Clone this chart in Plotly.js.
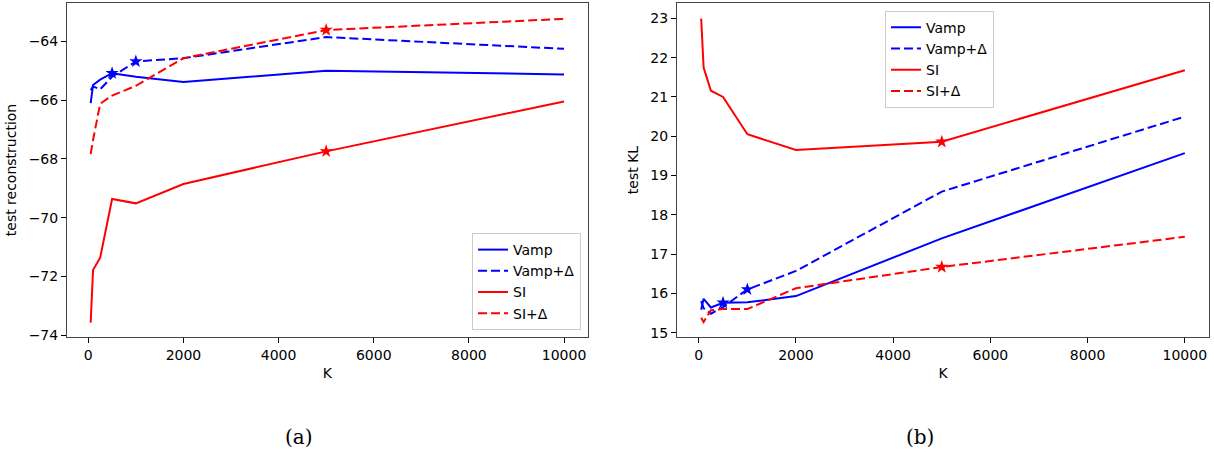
<!DOCTYPE html>
<html>
<head>
<meta charset="utf-8">
<script src="https://cdn.plot.ly/plotly-3.0.1.min.js"></script>
<style>
  html, body { margin: 0; padding: 0; background: #ffffff; }
  #chart { width: 1214px; height: 457px; }
</style>
</head>
<body>
<div id="chart"></div>
<script>
// ---- data ----
const K = [50, 100, 250, 500, 1000, 2000, 5000, 10000];

const seriesNames = ['Vamp', 'Vamp+Δ', 'SI', 'SI+Δ'];

// (a) test reconstruction
const vampRecon      = [-66.10, -65.48, -65.30, -65.08, -65.20, -65.38, -65.00, -65.12];
const vampDeltaRecon = [-65.66, -65.53, -65.63, -65.20, -64.68, -64.57, -63.85, -64.25];
const siRecon        = [-73.57, -71.78, -71.36, -69.36, -69.51, -68.85, -67.74, -66.04];
const siDeltaRecon   = [-67.83, -67.35, -66.12, -65.84, -65.51, -64.57, -63.61, -63.23];

// (b) test KL
const vampKL      = [15.58, 15.86, 15.64, 15.76, 15.77, 15.93, 17.40, 19.57];
const vampDeltaKL = [15.80, 15.62, 15.48, 15.65, 16.10, 16.57, 18.59, 20.50];
const siKL        = [23.00, 21.75, 21.16, 21.00, 20.05, 19.65, 19.86, 21.68];
const siDeltaKL   = [15.38, 15.27, 15.57, 15.60, 15.60, 16.13, 16.67, 17.44];

// K at which each series is marked with a star
const bestK = [500, 1000, 5000, 5000];

const yTicksRecon = [-74, -72, -70, -68, -66, -64];
const yTicksKL = [15, 16, 17, 18, 19, 20, 21, 22, 23];
const xTicks = [0, 2000, 4000, 6000, 8000, 10000];

const captions = ['(a)', '(b)'];
const yTitles = ['test reconstruction', 'test KL'];
const xTitle = 'K';

// ---- styling ----
const colors = ['#0000ff', '#0000ff', '#ff0000', '#ff0000'];
const dashes = ['solid', '9px,4px', 'solid', '9px,4px'];
const FONT = 'DejaVu Sans, sans-serif';
const FS = 14;

const panels = [
  {data: [vampRecon, vampDeltaRecon, siRecon, siDeltaRecon], xa: 'x', ya: 'y', legend: 'legend'},
  {data: [vampKL, vampDeltaKL, siKL, siDeltaKL], xa: 'x2', ya: 'y2', legend: 'legend2'}
];

const traces = [];
panels.forEach((p, pi) => {
  p.data.forEach((ys, si) => {
    traces.push({
      type: 'scatter', mode: 'lines', x: K, y: ys,
      name: seriesNames[si],
      xaxis: p.xa, yaxis: p.ya,
      legend: p.legend,
      legendgroup: 'g' + pi + '_' + si,
      line: {color: colors[si], width: 2, dash: dashes[si]},
      hoverinfo: 'x+y+name'
    });
  });
  p.data.forEach((ys, si) => {
    const idx = K.indexOf(bestK[si]);
    traces.push({
      type: 'scatter', mode: 'markers', x: [K[idx]], y: [ys[idx]],
      xaxis: p.xa, yaxis: p.ya, showlegend: false,
      legendgroup: 'g' + pi + '_' + si,
      marker: {symbol: 'star', size: 10, color: colors[si], line: {width: 0}},
      hoverinfo: 'x+y'
    });
  });
});

const W = 1214, H = 457;
const L = 67, R = 5, T = 3, B = 120;
const plotW = W - L - R, plotH = H - T - B;
const dom1 = [0, (587.7 - L) / plotW];
const dom2 = [(677 - L) / plotW, 1];

function xAxis(domain, anchor) {
  return {
    domain: domain, anchor: anchor,
    range: [-447.5, 10497.5],
    tickmode: 'array', tickvals: xTicks, ticktext: xTicks.map(String),
    ticks: 'outside', ticklen: 5, tickwidth: 1, tickcolor: '#000',
    showline: true, linecolor: '#444', linewidth: 1, mirror: true,
    showgrid: false, zeroline: false,
    tickfont: {family: FONT, size: FS, color: '#000'},
    title: {text: xTitle, font: {family: FONT, size: FS, color: '#000'}, standoff: 6},
    automargin: false
  };
}
function yAxis(range, ticks, title, anchor, standoff) {
  return {
    domain: [0, 1], anchor: anchor, range: range,
    tickmode: 'array', tickvals: ticks,
    ticks: 'outside', ticklen: 5, tickwidth: 1, tickcolor: '#000',
    showline: true, linecolor: '#444', linewidth: 1, mirror: true,
    showgrid: false, zeroline: false,
    tickfont: {family: FONT, size: FS, color: '#000'},
    title: {text: title, font: {family: FONT, size: FS, color: '#000'}, standoff: standoff},
    automargin: false
  };
}

const legendBase = {
  bgcolor: 'rgba(255,255,255,0.8)', bordercolor: '#cccccc', borderwidth: 1,
  font: {family: FONT, size: FS, color: '#000'},
  tracegroupgap: 0, itemwidth: 30
};

const px2x = px => (px - L) / plotW;
const px2y = py => (H - B - py) / plotH;

const layout = {
  width: W, height: H,
  margin: {l: L, r: R, t: T, b: B},
  paper_bgcolor: '#ffffff', plot_bgcolor: '#ffffff',
  showlegend: true,
  xaxis: xAxis(dom1, 'y'),
  yaxis: yAxis([-74.06, -62.69], yTicksRecon, yTitles[0], 'x', 8),
  xaxis2: xAxis(dom2, 'y2'),
  yaxis2: yAxis([14.888, 23.393], yTicksKL, yTitles[1], 'x2', 8),
  legend: Object.assign({}, legendBase, {
    x: px2x(581), y: px2y(330), xanchor: 'right', yanchor: 'bottom',
    xref: 'paper', yref: 'paper'
  }),
  legend2: Object.assign({}, legendBase, {
    x: px2x(885), y: px2y(10.7), xanchor: 'left', yanchor: 'top',
    xref: 'paper', yref: 'paper'
  }),
  annotations: [
    {text: captions[0], xref: 'paper', yref: 'paper', x: px2x(299), y: px2y(437),
     xanchor: 'center', yanchor: 'middle',
     showarrow: false, font: {family: 'DejaVu Serif, Liberation Serif, serif', size: 20, color: '#000'}},
    {text: captions[1], xref: 'paper', yref: 'paper', x: px2x(920), y: px2y(437),
     xanchor: 'center', yanchor: 'middle',
     showarrow: false, font: {family: 'DejaVu Serif, Liberation Serif, serif', size: 20, color: '#000'}}
  ]
};

Plotly.newPlot('chart', traces, layout, {displayModeBar: false, staticPlot: false});
</script>
</body>
</html>
